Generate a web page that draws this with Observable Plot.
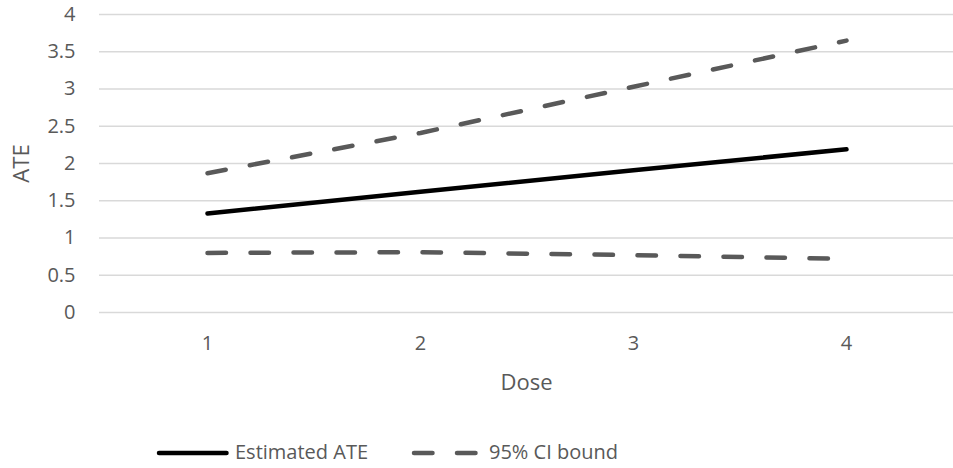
<!DOCTYPE html>
<html>
<head>
<meta charset="utf-8">
<script src="https://cdn.jsdelivr.net/npm/d3@7"></script>
<script src="https://cdn.jsdelivr.net/npm/@observablehq/plot@0.6"></script>
<style>
  body { margin: 0; background: #fff; }
  #chart svg { display: block; }
  #legend { position: relative; width: 953px; height: 68px; font-family: "Open Sans", sans-serif; font-size: 20px; color: #595959; }
  #legend span { position: absolute; line-height: 20px; top: 42px; white-space: nowrap; }
  #legend svg { position: absolute; left: 0; top: 0; }
</style>
</head>
<body>
<div id="chart"></div>
<div id="legend"></div>
<script>
const doses = [1, 2, 3, 4];
const estimatedATE = [1.33, 1.62, 1.91, 2.19];
const ciUpper = [1.87, 2.41, 3.03, 3.65];
const ciLower = [0.80, 0.81, 0.77, 0.72];
const yTicks = [0, 0.5, 1, 1.5, 2, 2.5, 3, 3.5, 4];
const seriesNames = ["Estimated ATE", "95% CI bound"];

const rows = doses.map((d, i) => ({dose: d, ate: estimatedATE[i], upper: ciUpper[i], lower: ciLower[i]}));

const dash = "18.5,24.5";
const gray = "#595959";

const plot = Plot.plot({
  width: 953,
  height: 400,
  marginLeft: 99,
  marginRight: 0,
  marginTop: 14,
  marginBottom: 88,
  style: {fontFamily: "Open Sans, sans-serif", fontSize: "20px", color: gray, background: "white"},
  x: {type: "point", domain: doses, padding: 0.5, label: null},
  y: {domain: [0, 4], label: null},
  marks: [
    Plot.gridY(yTicks, {stroke: "#d9d9d9", strokeOpacity: 1, strokeWidth: 1.4}),
    Plot.axisY(yTicks, {tickSize: 0, tickPadding: 24, tickFormat: d => String(d), fill: gray, fontSize: 20, label: null}),
    Plot.axisX(doses, {tickSize: 0, tickPadding: 23, fill: gray, fontSize: 20, label: null}),
    Plot.text(["ATE"], {frameAnchor: "left", dx: -77.5, rotate: -90, fill: gray, fontSize: 22, lineAnchor: "middle", textAnchor: "middle"}),
    Plot.text(["Dose"], {frameAnchor: "bottom", dy: 70, fill: gray, fontSize: 22, lineAnchor: "middle"}),
    Plot.line(rows, {x: "dose", y: "lower", stroke: gray, strokeWidth: 4.5, strokeDasharray: dash, strokeLinecap: "round"}),
    Plot.line(rows, {x: "dose", y: "upper", stroke: gray, strokeWidth: 4.5, strokeDasharray: dash, strokeLinecap: "round"}),
    Plot.line(rows, {x: "dose", y: "ate", stroke: "#000", strokeWidth: 4.5, strokeLinecap: "round"})
  ]
});
document.getElementById("chart").appendChild(plot);

const legend = document.getElementById("legend");
legend.innerHTML = `
<svg width="953" height="68">
  <line x1="159" y1="53" x2="226.5" y2="53" stroke="#000" stroke-width="4.5" stroke-linecap="round"/>
  <line x1="414" y1="53" x2="476" y2="53" stroke="${gray}" stroke-width="4.5" stroke-linecap="round" stroke-dasharray="${dash}"/>
</svg>
<span style="left:235px">${seriesNames[0]}</span>
<span style="left:489px">${seriesNames[1]}</span>`;
</script>
</body>
</html>
